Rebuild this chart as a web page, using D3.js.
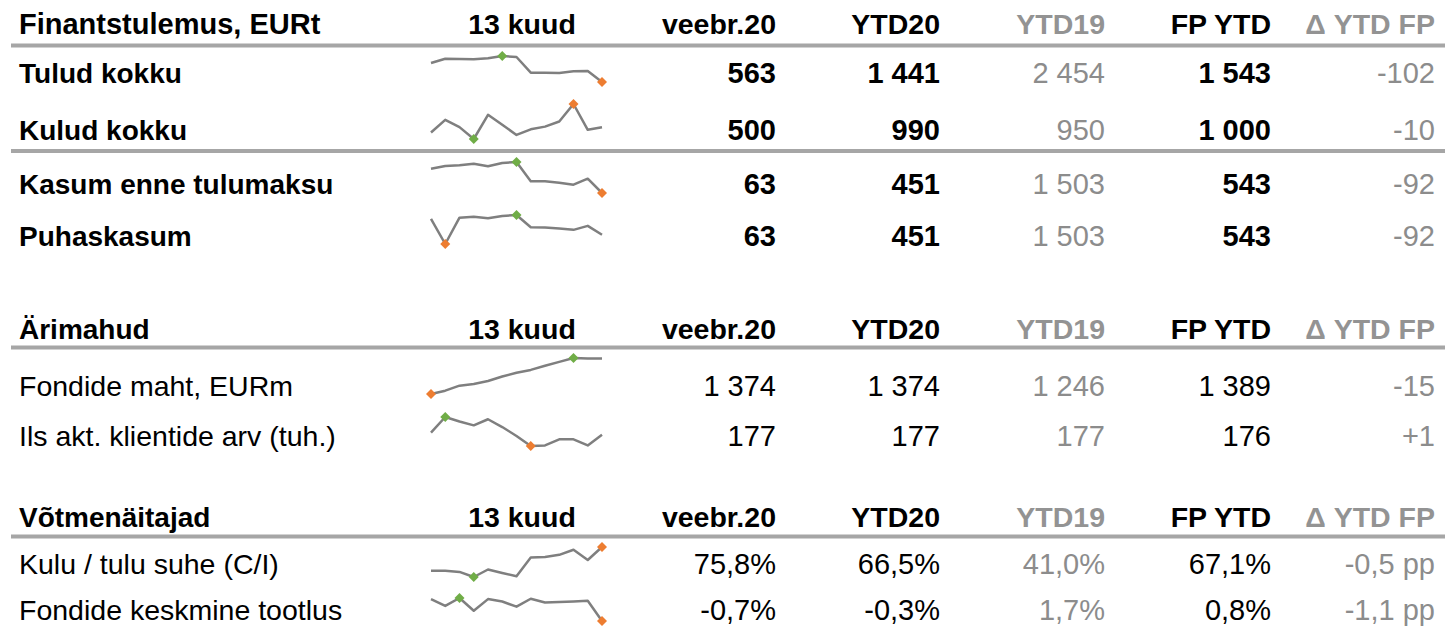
<!DOCTYPE html>
<html>
<head>
<meta charset="utf-8">
<script src="https://cdn.jsdelivr.net/npm/d3@7"></script>
<style>
  body { margin: 0; background: #fff; }
  text { font-family: "Liberation Sans", Arial, sans-serif; }
</style>
</head>
<body>
<div id="chart"></div>
<script>
// table content
const sectionTitles = ["Finantstulemus, EURt", "Ärimahud", "Võtmenäitajad"];
const columnHeads = ["veebr.20", "YTD20", "YTD19", "FP YTD", "Δ YTD FP"];
const sparkHead = "13 kuud";

const rowLabels = ["Tulud kokku", "Kulud kokku", "Kasum enne tulumaksu", "Puhaskasum",
  "Fondide maht, EURm", "Ils akt. klientide arv (tuh.)",
  "Kulu / tulu suhe (C/I)", "Fondide keskmine tootlus"];
const rowSection = [0, 0, 0, 0, 1, 1, 2, 2];
const rowKind = ["int", "int", "int", "int", "int", "int", "pct", "pct"];
const higherIsBetter = [true, false, true, true, true, true, false, true];

const monthVals = [563, 500, 63, 63, 1374, 177, 75.8, -0.7];
const ytd20Vals = [1441, 990, 451, 451, 1374, 177, 66.5, -0.3];
const ytd19Vals = [2454, 950, 1503, 1503, 1246, 177, 41.0, 1.7];
const fpVals = [1543, 1000, 543, 543, 1389, 176, 67.1, 0.8];
const deltaVals = [-102, -10, -92, -92, -15, 1, -0.5, -1.1];

// 13 months, veebr.19 .. veebr.20
const tuludSpark = [1107, 1231, 1222, 1212, 1241, 1308, 1279, 830, 830, 821, 868, 878, 563];
const kuludSpark = [480, 527, 500, 456, 546, 509, 471, 492, 502, 521, 586, 490, 500];
const kasumSpark = [615, 675, 690, 728, 668, 743, 766, 328, 328, 297, 252, 388, 63];
const puhasSpark = [640, -272, 688, 724, 664, 748, 784, 340, 328, 292, 244, 388, 63];
const fondidSpark = [1246, 1258, 1276, 1282, 1293, 1309, 1323, 1333, 1348, 1362, 1376, 1374, 1374];
const klientSpark = [177.2, 180.0, 179.2, 178.5, 179.6, 178.2, 176.6, 174.8, 174.9, 176.0, 176.0, 174.9, 176.8];
const ciSpark = [39.0, 39.0, 37.4, 29.5, 41.1, 35.8, 30.6, 59.5, 60.5, 63.7, 71.6, 55.8, 75.8];
const tootlusSpark = [0.49, 0.12, 0.55, -0.14, 0.49, 0.36, 0.08, 0.51, 0.31, 0.33, 0.36, 0.40, -0.70];
const sparks = [tuludSpark, kuludSpark, kasumSpark, puhasSpark, fondidSpark, klientSpark, ciSpark, tootlusSpark];

// layout
const W = 1445, H = 630;
const headBase = [34, 339, 527];
const ruleY = [45.5, 151, 347.5, 536.5];
const rowBase = [83, 140, 194, 246, 396, 446, 574, 620];
const sparkBand = [[56, 82], [104, 139], [162, 193], [215, 244], [358, 394], [417, 446], [547, 577], [598, 621]];
const colRight = [776, 940, 1105, 1271, 1435];
const colGrey = [false, false, true, false, true];
const labelX = 19;
const black = "#000", grey = "#8c8c8c", headGrey = "#939393", ruleColor = "#a6a6a6";

const loc = d3.formatLocale({decimal: ",", thousands: " ", grouping: [3], currency: ["", ""], minus: "-"});
const fInt = loc.format(",d"), fPct = loc.format(",.1f"), fDeltaInt = loc.format("+,d"), fDeltaPp = loc.format("+,.1f");

function fmt(v, kind, delta) {
  if (kind === "int") return delta ? fDeltaInt(v) : fInt(v);
  return delta ? fDeltaPp(v) + " pp" : fPct(v) + "%";
}

const svg = d3.select("#chart").append("svg")
  .attr("width", W).attr("height", H);

svg.append("rect").attr("width", W).attr("height", H).attr("fill", "#fff");

// section header rows
sectionTitles.forEach(function(t, s) {
  const g = svg.append("g").attr("transform", "translate(0," + headBase[s] + ")");
  g.append("text").attr("x", labelX).text(t)
    .attr("font-size", s === 0 ? 29 : 28).attr("font-weight", "bold").attr("fill", black);
  g.append("text").attr("x", 522).attr("text-anchor", "middle").text(sparkHead)
    .attr("font-size", 28.5).attr("font-weight", "bold").attr("fill", black);
  g.selectAll("text.col")
    .data(columnHeads)
    .enter()
    .append("text")
    .attr("class", "col")
    .attr("x", (d, i) => colRight[i])
    .attr("text-anchor", "end")
    .attr("font-size", 28.5)
    .attr("font-weight", "bold")
    .attr("fill", (d, i) => colGrey[i] ? headGrey : black)
    .text(d => d);
});

svg.selectAll("line.rule")
  .data(ruleY)
  .enter()
  .append("line")
  .attr("class", "rule")
  .attr("x1", 11).attr("x2", W)
  .attr("y1", d => d).attr("y2", d => d)
  .attr("stroke", ruleColor).attr("stroke-width", 4);

// data rows
const x = d3.scaleLinear().domain([0, 12]).range([431, 602]);

rowLabels.forEach(function(label, r) {
  const strong = rowSection[r] === 0;
  const g = svg.append("g").attr("transform", "translate(0," + rowBase[r] + ")");
  g.append("text").attr("x", labelX).text(label)
    .attr("font-size", strong ? 28 : 28.5)
    .attr("font-weight", strong ? "bold" : "normal")
    .attr("fill", black);

  const vals = [monthVals[r], ytd20Vals[r], ytd19Vals[r], fpVals[r], deltaVals[r]];
  g.selectAll("text.num")
    .data(vals)
    .enter()
    .append("text")
    .attr("class", "num")
    .attr("x", (d, i) => colRight[i])
    .attr("text-anchor", "end")
    .attr("font-size", 29)
    .attr("font-weight", (d, i) => strong && !colGrey[i] ? "bold" : "normal")
    .attr("fill", (d, i) => colGrey[i] ? grey : black)
    .text((d, i) => fmt(d, rowKind[r], i === 4));

  // sparkline
  const data = sparks[r];
  const y = d3.scaleLinear().domain(d3.extent(data)).range([sparkBand[r][1], sparkBand[r][0]]);
  const line = d3.line().x((d, i) => x(i)).y(d => y(d));
  svg.append("path")
    .datum(data)
    .attr("d", line)
    .attr("fill", "none")
    .attr("stroke", "#7f7f7f")
    .attr("stroke-width", 2.5)
    .attr("stroke-linejoin", "round");

  const hi = d3.maxIndex(data), lo = d3.minIndex(data);
  const marks = [
    {i: hi, c: higherIsBetter[r] ? "#70ad47" : "#ed7d31"},
    {i: lo, c: higherIsBetter[r] ? "#ed7d31" : "#70ad47"}
  ];
  svg.selectAll(null)
    .data(marks)
    .enter()
    .append("path")
    .attr("d", d3.symbol(d3.symbolDiamond2, 64))
    .attr("transform", d => "translate(" + x(d.i) + "," + y(data[d.i]) + ")")
    .attr("fill", d => d.c);
});
</script>
</body>
</html>
